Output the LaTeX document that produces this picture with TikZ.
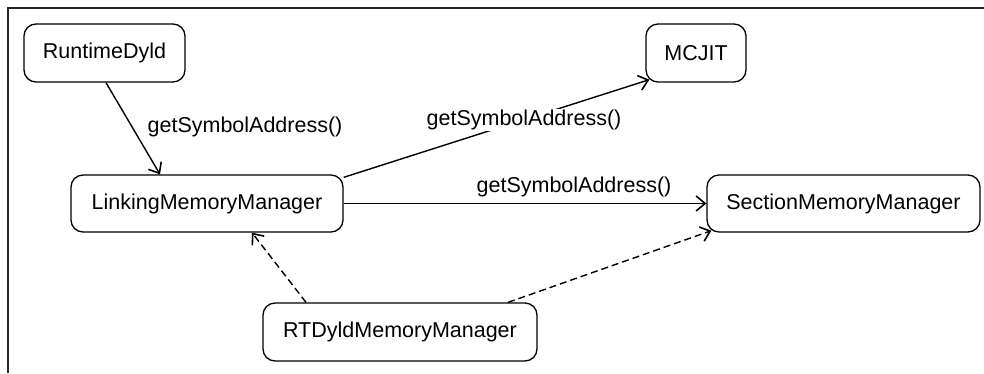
\documentclass[tikz,border=0pt]{standalone}
\usepackage{fontspec}
\setmainfont{Liberation Sans}
\usetikzlibrary{arrows.meta}
\begin{document}
\begin{tikzpicture}[x=1pt,y=-1pt,
  box/.style={draw, line width=1.3pt, rounded corners=12pt, inner sep=0pt,
    font=\fontsize{21.5}{24}\selectfont, minimum height=57pt},
  lbl/.style={font=\fontsize{21.5}{24}\selectfont, inner sep=1pt},
  arr/.style={line width=1.4pt, -{Straight Barb[length=9pt,width=15pt,line width=1.6pt]}},
  dsh/.style={arr, dash pattern=on 7pt off 4pt}]
\useasboundingbox (0,0) rectangle (984,373);
\draw[line width=1.2pt, black!85] (8,373) -- (8,8) -- (984,8);

\node[box, minimum width=161pt, minimum height=58pt] (rd) at (104.5,53) {RuntimeDyld};
\node[box, minimum width=100pt, minimum height=58pt] (mc) at (696,53) {MCJIT};
\node[box, minimum width=272pt] (lmm) at (207,203.5) {LinkingMemoryManager};
\node[box, minimum width=273pt] (smm) at (843.5,203.5) {SectionMemoryManager};
\node[box, minimum width=274pt, minimum height=58pt] (rt) at (400,332) {RTDyldMemoryManager};

\draw[arr] ([xshift=1.5pt]rd.south) -- ([xshift=-47pt]lmm.north);
\node[lbl] (l1) at (245,127) {getSymbolAddress()};
\draw[arr] ([yshift=-3pt]lmm.north east) -- ([xshift=4pt,yshift=3pt]mc.south west)
  node[lbl, fill=white, pos=0.59] (l2) {getSymbolAddress()};
\draw[arr] (lmm.east) -- (smm.west);
\node[lbl] (l3) at (574,187) {getSymbolAddress()};

\draw[dsh] ([xshift=-94pt]rt.north) -- ([xshift=45pt]lmm.south);
\draw[dsh] ([xshift=108pt]rt.north) -- ([xshift=5pt,yshift=2pt]smm.south west);
\end{tikzpicture}
\end{document}
